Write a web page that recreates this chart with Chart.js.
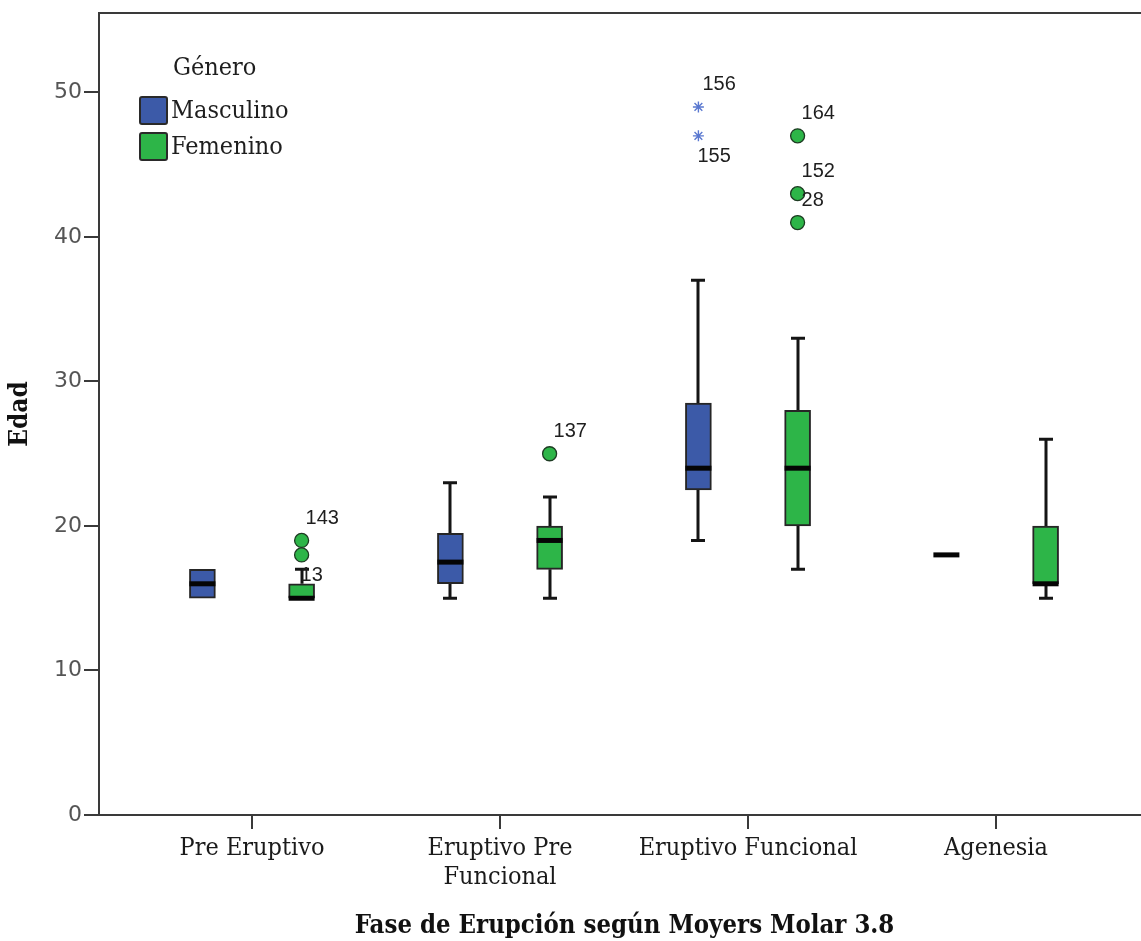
<!DOCTYPE html>
<html lang="es">
<head>
<meta charset="utf-8">
<title>Edad según fase de erupción</title>
<script src="https://cdn.jsdelivr.net/npm/chart.js@4/dist/chart.umd.min.js"></script>
<style>
  html, body { margin: 0; padding: 0; background: #ffffff; overflow: hidden; }
  #wrap { width: 1141px; height: 941px; overflow: hidden; position: relative; }
  canvas { display: block; }
</style>
</head>
<body>
<div id="wrap"><canvas id="chart" width="1200" height="941"></canvas></div>
<script>
// Categories on the x axis (multi-line labels as arrays)
const categories = [['Pre Eruptivo'], ['Eruptivo Pre', 'Funcional'], ['Eruptivo Funcional'], ['Agenesia']];
const seriesNames = ['Masculino', 'Femenino'];
const yTickValues = [0, 10, 20, 30, 40, 50];

// Five-number summaries per category — Masculino
const mascMin    = [15, 15, 19, 18];
const mascQ1     = [15, 16, 22.5, 18];
const mascMedian = [16, 17.5, 24, 18];
const mascQ3     = [17, 19.5, 28.5, 18];
const mascMax    = [17, 23, 37, 18];

// Five-number summaries per category — Femenino
const femMin    = [15, 15, 17, 15];
const femQ1     = [15, 17, 20, 16];
const femMedian = [15, 19, 24, 16];
const femQ3     = [16, 20, 28, 20];
const femMax    = [17, 22, 33, 26];

// Outlying cases (category number, value, case label, label side)
const mascOutCat   = [3, 3];
const mascOutVal   = [49, 47];
const mascOutCase  = ['156', '155'];
const mascOutSide  = ['above', 'below'];

const femOutCat    = [1, 1, 2, 3, 3, 3];
const femOutVal    = [19, 18, 25, 47, 43, 41];
const femOutCase   = ['143', '13', '137', '164', '152', '28'];
const femOutSide   = ['above', 'below', 'above', 'above', 'above', 'above'];

// Styling
const BLUE = '#3c5aa8';
const GREEN = '#2db548';
const STAR = '#5a78d0';
const AXIS = '#3a3a3a';
const SERIF = "'DejaVu Serif Condensed', 'DejaVu Serif', serif";
const SANS = "'DejaVu Sans', sans-serif";
const LABEL_SANS = "'Liberation Sans', Arial, sans-serif";
const GROUP_SHIFT = 0.2;          // horizontal shift of each gender inside a category

const groups = [
  { min: mascMin, q1: mascQ1, med: mascMedian, q3: mascQ3, max: mascMax, shift: -GROUP_SHIFT },
  { min: femMin,  q1: femQ1,  med: femMedian,  q3: femQ3,  max: femMax,  shift:  GROUP_SHIFT }
];

function boxData(g) {
  return categories.map((_, i) => ({ x: i + 1 + g.shift, y: [g.q1[i], g.q3[i]] }));
}
function outlierData(cats, vals, shift) {
  return cats.map((c, i) => ({ x: c + shift, y: vals[i] }));
}

// Whiskers (drawn under the boxes), medians, case labels, legend and frame
const boxPlotPlugin = {
  id: 'boxPlotExtras',
  beforeDatasetsDraw(chart) {
    const { ctx, scales: { x, y } } = chart;
    ctx.save();
    ctx.strokeStyle = '#151515';
    ctx.lineWidth = 3;
    ctx.lineCap = 'butt';
    groups.forEach(g => {
      g.min.forEach((_, i) => {
        const px = Math.round(x.getPixelForValue(i + 1 + g.shift));
        const cap = 7;
        const segs = [];
        if (g.max[i] > g.q3[i]) segs.push([g.q3[i], g.max[i]]);
        if (g.min[i] < g.q1[i]) segs.push([g.q1[i], g.min[i]]);
        segs.forEach(([from, to]) => {
          const y0 = y.getPixelForValue(from), y1 = y.getPixelForValue(to);
          ctx.beginPath();
          ctx.moveTo(px, y0); ctx.lineTo(px, y1);
          ctx.moveTo(px - cap, y1); ctx.lineTo(px + cap, y1);
          ctx.stroke();
        });
      });
    });
    ctx.restore();
  },
  afterDatasetsDraw(chart) {
    const { ctx, chartArea, scales: { x, y } } = chart;
    ctx.save();

    // medians
    ctx.strokeStyle = '#050505';
    ctx.lineWidth = 5;
    groups.forEach((g, gi) => {
      const meta = chart.getDatasetMeta(gi);
      g.med.forEach((m, i) => {
        const bar = meta.data[i];
        const half = bar.width / 2;
        const py = y.getPixelForValue(m);
        ctx.beginPath();
        ctx.moveTo(bar.x - half, py);
        ctx.lineTo(bar.x + half, py);
        ctx.stroke();
      });
    });

    // case labels next to outlying points
    ctx.fillStyle = '#1e1e1e';
    ctx.font = '20px ' + LABEL_SANS;
    ctx.textBaseline = 'middle';
    ctx.textAlign = 'left';
    const labelSets = [
      { meta: chart.getDatasetMeta(2), text: mascOutCase, side: mascOutSide },
      { meta: chart.getDatasetMeta(3), text: femOutCase, side: femOutSide }
    ];
    labelSets.forEach(s => {
      s.meta.data.forEach((pt, i) => {
        const above = s.side[i] === 'above';
        ctx.fillText(s.text[i], pt.x + (above ? 4 : -1), pt.y + (above ? -22 : 21));
      });
    });

    // top frame line
    ctx.strokeStyle = AXIS;
    ctx.lineWidth = 2;
    ctx.beginPath();
    ctx.moveTo(chartArea.left, chartArea.top);
    ctx.lineTo(chartArea.right + 10, chartArea.top);
    ctx.stroke();

    // legend
    const lx = chartArea.left + 40, ly = chartArea.top + 55;
    ctx.fillStyle = '#1e1e1e';
    ctx.font = '25px ' + SERIF;
    ctx.textBaseline = 'middle';
    ctx.fillText('Género', lx + 34, ly);
    [BLUE, GREEN].forEach((c, i) => {
      const by = ly + 28 + i * 36;
      ctx.fillStyle = c;
      ctx.strokeStyle = '#2a2a2a';
      ctx.lineWidth = 2;
      ctx.beginPath();
      ctx.roundRect(lx + 1, by + 1, 27, 27, 2);
      ctx.fill();
      ctx.stroke();
      ctx.fillStyle = '#1e1e1e';
      ctx.fillText(seriesNames[i], lx + 32, by + 15);
    });
    ctx.restore();
  }
};

new Chart(document.getElementById('chart'), {
  type: 'bar',
  data: {
    datasets: [
      { label: seriesNames[0], data: boxData(groups[0]), backgroundColor: BLUE, borderColor: '#262626',
        borderWidth: 2, borderSkipped: false, barThickness: 26, grouped: false, order: 2 },
      { label: seriesNames[1], data: boxData(groups[1]), backgroundColor: GREEN, borderColor: '#262626',
        borderWidth: 2, borderSkipped: false, barThickness: 26, grouped: false, order: 2 },
      { type: 'scatter', label: seriesNames[0] + ' extremos', data: outlierData(mascOutCat, mascOutVal, -GROUP_SHIFT),
        pointStyle: 'star', pointRadius: 5.5, borderColor: STAR, backgroundColor: STAR, borderWidth: 1.4, order: 1 },
      { type: 'scatter', label: seriesNames[1] + ' atípicos', data: outlierData(femOutCat, femOutVal, GROUP_SHIFT),
        pointStyle: 'circle', pointRadius: 7, backgroundColor: GREEN, borderColor: '#1d3b22', borderWidth: 1.3, order: 1 }
    ]
  },
  plugins: [boxPlotPlugin],
  options: {
    responsive: false,
    animation: false,
    events: [],
    layout: { padding: { left: 0, top: 13, right: 50, bottom: 0 } },
    plugins: { legend: { display: false }, tooltip: { enabled: false } },
    scales: {
      x: {
        type: 'linear',
        offset: false,
        min: 0.383,
        max: 4.621,
        afterBuildTicks(scale) { scale.ticks = categories.map((_, i) => ({ value: i + 1 })); },
        afterFit(scale) { scale.height = 126; },
        ticks: {
          autoSkip: false, maxRotation: 0, padding: 5, color: '#1a1a1a',
          font: { family: SERIF, size: 25, lineHeight: 1.15 },
          callback: v => categories[v - 1]
        },
        grid: { offset: false, drawOnChartArea: false, tickLength: 14, color: AXIS, lineWidth: 2 },
        border: { display: true, color: AXIS, width: 2 },
        title: {
          display: true, text: 'Fase de Erupción según Moyers Molar 3.8', color: '#111',
          font: { family: SERIF, size: 25.5, weight: 'bold', lineHeight: 1 },
          padding: { top: 0, bottom: 2 }
        }
      },
      y: {
        type: 'linear',
        min: 0,
        max: 55.5,
        afterBuildTicks(scale) { scale.ticks = yTickValues.map(v => ({ value: v })); },
        afterFit(scale) { scale.width = 99; },
        ticks: { padding: 2, color: '#555', font: { family: SANS, size: 22, lineHeight: 1 } },
        grid: { drawOnChartArea: false, tickLength: 15, color: AXIS, lineWidth: 2 },
        border: { display: true, color: AXIS, width: 2 },
        title: {
          display: true, text: 'Edad', color: '#111',
          font: { family: SERIF, size: 26, weight: 'bold', lineHeight: 1.2 },
          padding: { top: 5, bottom: 0 }
        }
      }
    }
  }
});
</script>
</body>
</html>
